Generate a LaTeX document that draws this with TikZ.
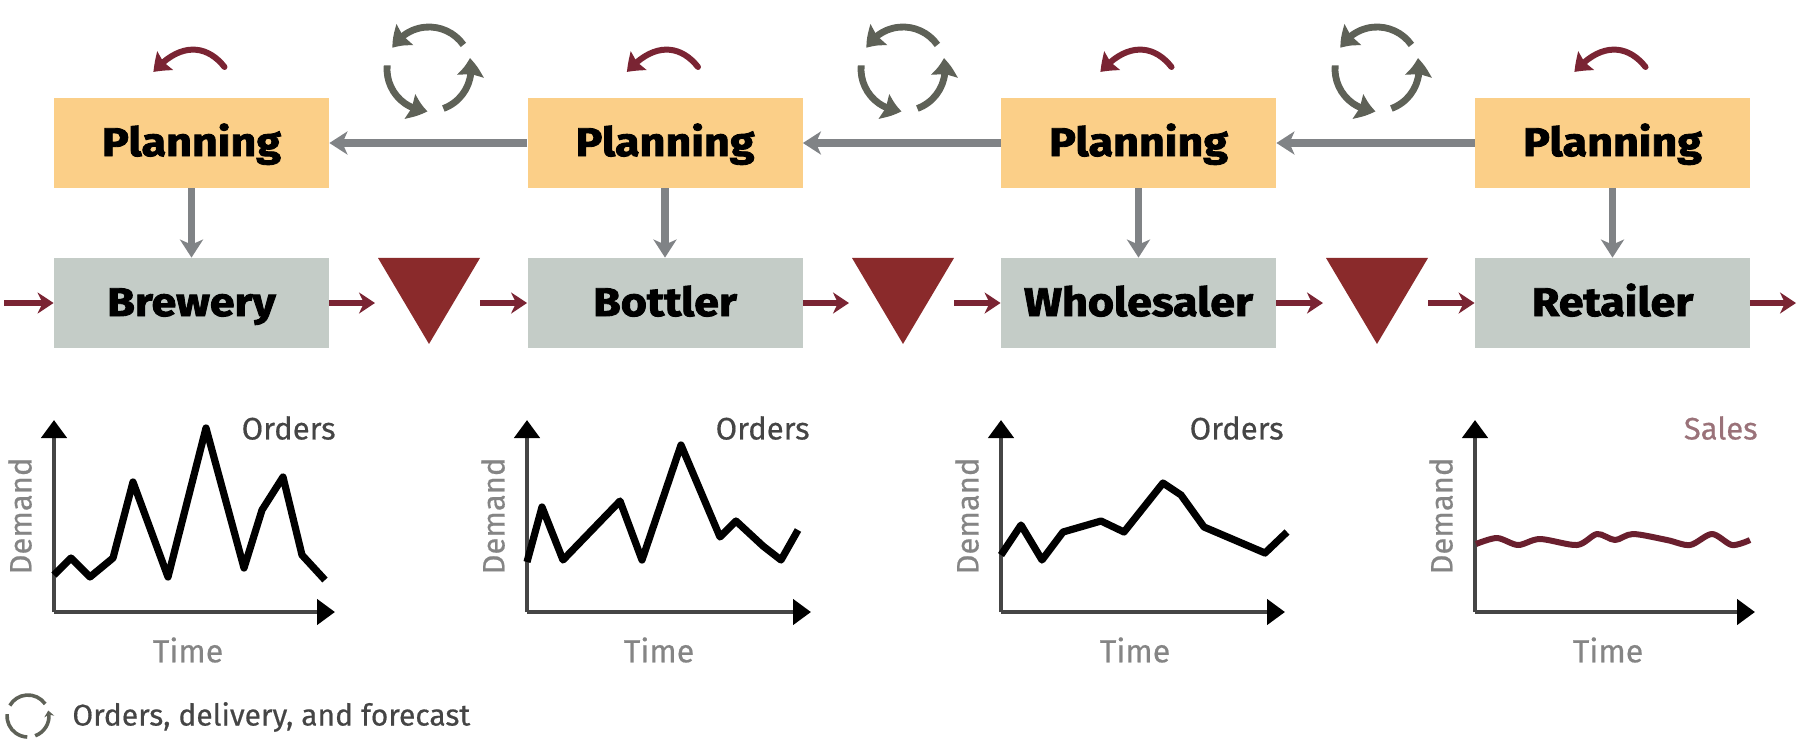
\documentclass[tikz,border=0pt]{standalone}
\usepackage{fontspec}
\setmainfont{Fira Sans}[BoldFeatures={FakeBold=2.2,FakeStretch=1.12}]
\newfontfamily\labfont{Fira Sans}[FakeBold=0.5]
\usetikzlibrary{arrows.meta,bending,shapes.geometric,calc}
\definecolor{planfill}{HTML}{FBCF88}
\definecolor{procfill}{HTML}{C4CCC7}
\definecolor{tri}{HTML}{8A2A2B}
\definecolor{redline}{HTML}{7A2433}
\definecolor{grayline}{HTML}{808386}
\definecolor{cyc}{HTML}{5E6157}
\definecolor{labgray}{HTML}{858585}
\definecolor{labdark}{HTML}{454545}
\definecolor{salescol}{HTML}{9A7279}
\definecolor{salesline}{HTML}{6A1F2E}
\tikzset{
  x=0.5pt,y=-0.5pt,
  planbox/.style={fill=planfill,minimum width=137.5pt,minimum height=45pt,inner sep=0pt,text height=17pt,text depth=4pt,font=\fontsize{20}{20}\selectfont\bfseries,text=black},
  procbox/.style={fill=procfill,minimum width=137.5pt,minimum height=45pt,inner sep=0pt,text height=17pt,text depth=4pt,font=\fontsize{20}{20}\selectfont\bfseries,text=black},
  stock/.style={isosceles triangle,isosceles triangle stretches,shape border rotate=-90,minimum width=51pt,minimum height=43pt,inner sep=0pt,fill=tri,anchor=apex},
  grayarrow/.style={draw=grayline,line width=3.6pt,-{Stealth[length=9pt,width=11.5pt,inset=2.5pt]}},
  redarrow/.style={draw=redline,line width=3pt,-{Stealth[length=8pt,width=10.5pt,inset=2.5pt]}},
  selfarrow/.style={draw=redline,line width=3pt,line cap=round,-{Stealth[length=8pt,width=12pt,inset=1pt,bend]}},
  cyclearrow/.style={draw=cyc,line width=3.4pt,-{Stealth[length=9pt,width=13pt,inset=1pt,bend]}},
  axisline/.style={draw=labdark,line width=2.4pt,-{Triangle[length=9pt,width=12.5pt,color=black]}},
  curveline/.style={draw=black,line width=3.6pt,line join=round},
  orderlab/.style={anchor=east,inner sep=0pt,text=labdark,font=\labfont\fontsize{15.5}{15.5}\selectfont},
  timelab/.style={text=labgray,font=\labfont\fontsize{16}{16}\selectfont},
  demandlab/.style={rotate=90,text=labgray,font=\labfont\fontsize{15.5}{15.5}\selectfont},
}
\begin{document}
\begin{tikzpicture}
\useasboundingbox (0,0) rectangle (1798,751);
% planning and process boxes
\foreach \i/\cx/\name in {1/191.5/Brewery,2/665/Bottler,3/1138.5/Wholesaler,4/1612.5/Retailer}{
  \node[planbox] (p\i) at (\cx,143) {Planning};
  \node[procbox] (b\i) at (\cx,303) {\name};
  \draw[grayarrow] (p\i) -- (b\i);
  % self-loop arrow above planning
  \coordinate (sa\i) at (\cx+33,67);
  \coordinate (sb\i) at (\cx-38,72);
  \draw[selfarrow] (sa\i) .. controls (\cx+15,44) and (\cx-12,42) .. (sb\i);
}
% stock triangles
\node[stock] (t1) at (429,345) {};
\node[stock] (t2) at (903,345) {};
\node[stock] (t3) at (1377,345) {};
% planning links
\foreach \a/\b in {2/1,3/2,4/3}{
  \draw[grayarrow] (p\a) -- (p\b);
}
% flow arrows
\coordinate (inflow) at (4,303);
\coordinate (outflow) at (1796,303);
\draw[redarrow] (inflow) -- (b1);
\draw[redarrow,shorten >=27pt] (b1.east) -- (b1.east -| t1.center);
\draw[redarrow,shorten <=25.5pt] (t1.center |- b2.west) -- (b2.west);
\draw[redarrow,shorten >=27pt] (b2.east) -- (b2.east -| t2.center);
\draw[redarrow,shorten <=25.5pt] (t2.center |- b3.west) -- (b3.west);
\draw[redarrow,shorten >=27pt] (b3.east) -- (b3.east -| t3.center);
\draw[redarrow,shorten <=25.5pt] (t3.center |- b4.west) -- (b4.west);
\draw[redarrow] (b4) -- (outflow);
% cycles
\foreach \cx in {429,903,1377}{
  \begin{scope}[shift={(\cx,69)}]
    \draw[cyclearrow] (35:21pt) arc[start angle=35,end angle=150,radius=21pt];
    \draw[cyclearrow] (175:21pt) arc[start angle=175,end angle=268,radius=21pt];
    \draw[cyclearrow] (-70:21pt) arc[start angle=-70,end angle=15,radius=21pt];
  \end{scope}
}
% graphs
\foreach \ox/\rx/\tx in {54/335/188,527/811/659,1001/1285/1135,1475/1755/1608}{
  \coordinate (org) at (\ox,612);
  \coordinate (ytop) at (\ox,420);
  \coordinate (xend) at (\rx,612);
  \draw[axisline] (org) -- (ytop);
  \draw[axisline] (org) -- (xend);
  \node[timelab] (tm\ox) at (\tx,650) {Time};
  \node[demandlab] (dm\ox) at (\ox-34,516) {Demand};
}
\draw[curveline] (54,575)--(71,558)--(90,577)--(113,558)--(133,482)--(168,577)--(206,428)--(244,568)--(262,510)--(283,477)--(302,555)--(325,580);
\draw[curveline] (527,562)--(542,507)--(563,560)--(620,501)--(642,560)--(681,445)--(720,537)--(736,521)--(763,546)--(781,560)--(798,530);
\draw[curveline] (1001,555)--(1021,525)--(1042,560)--(1063,532)--(1101,521)--(1124,532)--(1163,483)--(1181,495)--(1204,527)--(1265,553)--(1287,532);
\draw[draw=salesline,line width=3pt,line join=round] plot[smooth,tension=0.5] coordinates {(1476,544)(1497,538)(1518,545)(1540,539)(1577,545)(1597,534)(1615,540)(1633,534)(1667,540)(1690,545)(1712,534)(1732,545)(1750,540)};
\node[orderlab] (l1) at (336,428) {Orders};
\node[orderlab] (l2) at (810,428) {Orders};
\node[orderlab] (l3) at (1284,428) {Orders};
\node[orderlab,text=salescol] (l4) at (1758,428) {Sales};
% legend
\begin{scope}[shift={(28,716)}]
  \draw[draw=cyc,line width=1.8pt] (35:10.5pt) arc[start angle=35,end angle=150,radius=10.5pt];
  \draw[draw=cyc,line width=1.8pt] (175:10.5pt) arc[start angle=175,end angle=268,radius=10.5pt];
  \draw[draw=cyc,line width=1.8pt,-{Stealth[length=3pt,width=5pt]}] (-70:10.5pt) arc[start angle=-70,end angle=15,radius=10.5pt];
\end{scope}
\node[anchor=west,inner sep=0pt,text=labdark,font=\labfont\fontsize{15}{15}\selectfont] (legend) at (72,717) {Orders, delivery, and forecast};
\end{tikzpicture}
\end{document}
